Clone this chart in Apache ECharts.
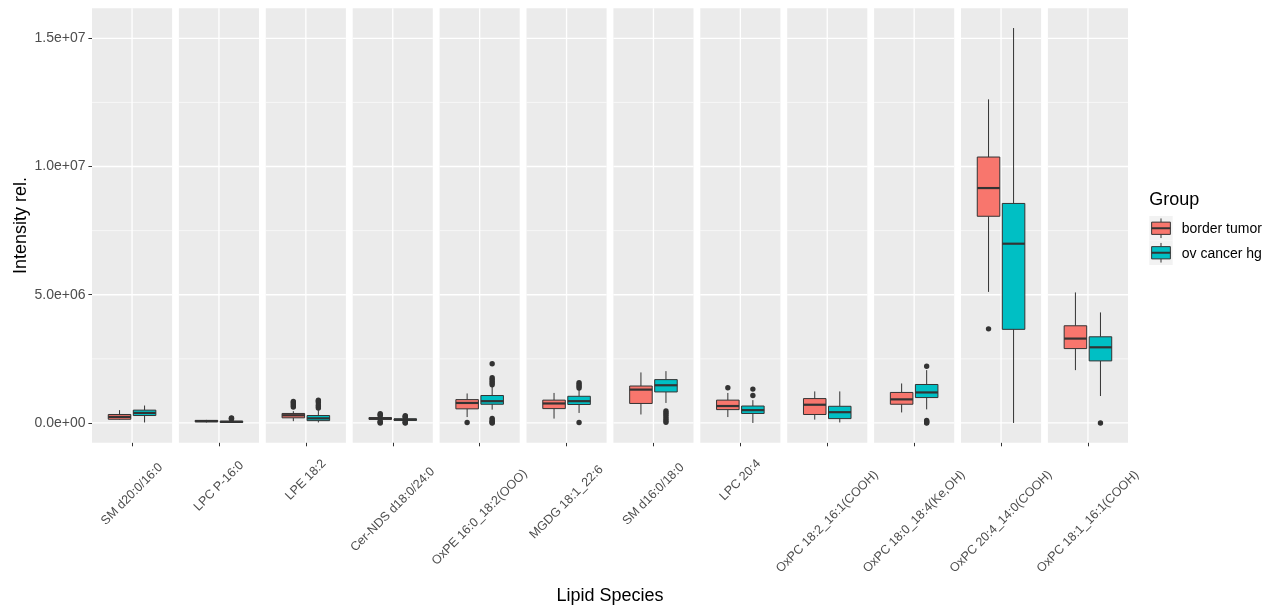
<!DOCTYPE html>
<html>
<head>
<meta charset="utf-8">
<title>Lipid Species – Intensity by Group</title>
<script src="https://cdn.jsdelivr.net/npm/echarts@6/dist/echarts.min.js"></script>
<style>
  html, body { margin: 0; padding: 0; background: #ffffff; }
  #chart { width: 1282px; height: 612px; }
</style>
</head>
<body>
<div id="chart"></div>
<script>
// ---- data ---------------------------------------------------------------
const lipidSpecies = [
  'SM d20:0/16:0', 'LPC P-16:0', 'LPE 18:2', 'Cer-NDS d18:0/24:0',
  'OxPE 16:0_18:2(OOO)', 'MGDG 18:1_22:6', 'SM d16:0/18:0', 'LPC 20:4',
  'OxPC 18:2_16:1(COOH)', 'OxPC 18:0_18:4(Ke,OH)', 'OxPC 20:4_14:0(COOH)',
  'OxPC 18:1_16:1(COOH)'
];

const groupNames = ['border tumor', 'ov cancer hg'];
const groupColors = ['#F8766D', '#00BFC4'];

// [lower whisker, Q1, median, Q3, upper whisker]
const borderTumorStats = [
  [0.13e6, 0.145e6, 0.235e6, 0.33e6, 0.50e6],
  [0.02e6, 0.045e6, 0.07e6, 0.10e6, 0.12e6],
  [0.07e6, 0.20e6, 0.30e6, 0.37e6, 0.46e6],
  [0.09e6, 0.14e6, 0.17e6, 0.21e6, 0.26e6],
  [0.23e6, 0.55e6, 0.78e6, 0.91e6, 1.15e6],
  [0.17e6, 0.56e6, 0.76e6, 0.89e6, 1.17e6],
  [0.33e6, 0.76e6, 1.30e6, 1.44e6, 1.97e6],
  [0.23e6, 0.52e6, 0.66e6, 0.89e6, 1.17e6],
  [0.13e6, 0.33e6, 0.71e6, 0.95e6, 1.23e6],
  [0.41e6, 0.73e6, 0.92e6, 1.19e6, 1.54e6],
  [5.11e6, 8.06e6, 9.16e6, 10.37e6, 12.62e6],
  [2.06e6, 2.90e6, 3.29e6, 3.79e6, 5.09e6]
];
const ovCancerHgStats = [
  [0.02e6, 0.29e6, 0.39e6, 0.50e6, 0.68e6],
  [0.00e6, 0.02e6, 0.045e6, 0.07e6, 0.10e6],
  [0.02e6, 0.09e6, 0.18e6, 0.29e6, 0.50e6],
  [0.06e6, 0.10e6, 0.13e6, 0.16e6, 0.20e6],
  [0.52e6, 0.73e6, 0.85e6, 1.07e6, 1.41e6],
  [0.39e6, 0.72e6, 0.85e6, 1.04e6, 1.34e6],
  [0.78e6, 1.21e6, 1.47e6, 1.69e6, 2.02e6],
  [0.00e6, 0.37e6, 0.50e6, 0.66e6, 0.89e6],
  [0.02e6, 0.17e6, 0.42e6, 0.65e6, 1.23e6],
  [0.53e6, 0.99e6, 1.19e6, 1.50e6, 2.06e6],
  [0.00e6, 3.65e6, 6.99e6, 8.56e6, 15.40e6],
  [1.05e6, 2.42e6, 2.95e6, 3.36e6, 4.31e6]
];

const borderTumorOutliers = [
  [],
  [],
  [0.62e6, 0.68e6, 0.74e6, 0.80e6, 0.84e6],
  [0.00e6, 0.03e6, 0.07e6, 0.28e6, 0.32e6, 0.36e6],
  [0.02e6],
  [],
  [],
  [1.37e6],
  [],
  [],
  [3.67e6],
  []
];
const ovCancerHgOutliers = [
  [],
  [0.15e6, 0.18e6, 0.20e6],
  [0.58e6, 0.64e6, 0.70e6, 0.80e6, 0.86e6, 0.89e6],
  [0.00e6, 0.02e6, 0.05e6, 0.22e6, 0.25e6, 0.28e6],
  [2.31e6, 1.76e6, 1.70e6, 1.63e6, 1.56e6, 1.49e6, 0.18e6, 0.12e6, 0.07e6, 0.02e6, 0.00e6],
  [1.57e6, 1.50e6, 1.43e6, 1.36e6, 0.02e6],
  [0.47e6, 0.40e6, 0.33e6, 0.25e6, 0.17e6, 0.10e6, 0.03e6],
  [1.07e6, 1.32e6],
  [],
  [2.21e6, 0.10e6, 0.06e6, 0.02e6, 0.00e6],
  [],
  [0.00e6]
];

const yTickValues = [0, 5e6, 1e7, 1.5e7];

// ---- layout & style -----------------------------------------------------
const FONT = '"Liberation Sans", Arial, Helvetica, sans-serif';
const PANEL_LEFT = 92, PANEL_RIGHT = 1128, PANEL_GAP = 6.8;
const PANEL_TOP = 8.3, PANEL_BOTTOM = 442.7;
const nPanels = lipidSpecies.length;
const panelW = (PANEL_RIGHT - PANEL_LEFT - PANEL_GAP * (nPanels - 1)) / nPanels;

// dodged boxes: each group takes half of a 0.75-wide slot, padded by 10%,
// inside a panel spanning 1.2 category units
const DODGE_OFFSET = 0.1875 / 1.2;
const BOX_WIDTH = 0.3375 / 1.2;
const INK = '#333333';
const AXIS_TEXT = '#4D4D4D';
const X_LABEL_SIZE = 12.5;

// scale range: data range widened by 5% on each side
const allValues = [];
[borderTumorStats, ovCancerHgStats, borderTumorOutliers, ovCancerHgOutliers]
  .forEach(set => set.forEach(row => row.forEach(v => allValues.push(v))));
const dataLo = Math.min(...allValues), dataHi = Math.max(...allValues);
const pad = 0.05 * (dataHi - dataLo);
const yLo = dataLo - pad, yHi = dataHi + pad;

// minor grid lines halfway between the major ones
const yMinorValues = [];
for (let k = 0; k < yTickValues.length - 1; k++) {
  yMinorValues.push((yTickValues[k] + yTickValues[k + 1]) / 2);
}

function sciLabel(v) {
  const parts = Number(v).toExponential(1).split('e');
  const exp = parts[1];
  const sign = exp[0] === '-' ? '-' : '+';
  const digits = exp.replace(/[+-]/, '').padStart(2, '0');
  return parts[0] + 'e' + sign + digits;
}

// rotated category labels sit centred under their tick; longer names drop lower
const measureCtx = document.createElement('canvas').getContext('2d');
measureCtx.font = X_LABEL_SIZE + 'px ' + FONT;
function labelMargin(text) {
  const w = measureCtx.measureText(text).width;
  return 6.2 + 0.483 * (w + X_LABEL_SIZE);
}

// ---- renderers ----------------------------------------------------------
function renderGridLines(params, api) {
  const cs = params.coordSys;
  const kind = api.value(2);
  if (kind === 2) {
    const x = api.coord([0, 0])[0];
    return { type: 'line', silent: true,
      shape: { x1: x, y1: cs.y, x2: x, y2: cs.y + cs.height },
      style: { stroke: '#FFFFFF', lineWidth: 1.3 } };
  }
  const y = api.coord([0, api.value(1)])[1];
  return { type: 'line', silent: true,
    shape: { x1: cs.x, y1: y, x2: cs.x + cs.width, y2: y },
    style: { stroke: '#FFFFFF', lineWidth: kind === 1 ? 1.3 : 0.6 } };
}

function groupCenter(params, api, g) {
  const band = params.coordSys.width;
  return api.coord([0, 0])[0] + (g ? 1 : -1) * band * DODGE_OFFSET;
}

function renderBox(params, api) {
  const g = api.value(6);
  const cx = groupCenter(params, api, g);
  const hw = params.coordSys.width * BOX_WIDTH / 2;
  const y = k => api.coord([0, api.value(k)])[1];
  const yMin = y(1), yQ1 = y(2), yMed = y(3), yQ3 = y(4), yMax = y(5);
  return {
    type: 'group',
    children: [
      { type: 'line', shape: { x1: cx, y1: yQ3, x2: cx, y2: yMax }, style: { stroke: INK, lineWidth: 1 } },
      { type: 'line', shape: { x1: cx, y1: yQ1, x2: cx, y2: yMin }, style: { stroke: INK, lineWidth: 1 } },
      { type: 'rect', shape: { x: cx - hw, y: yQ3, width: 2 * hw, height: yQ1 - yQ3 },
        style: { fill: groupColors[g], stroke: INK, lineWidth: 1 } },
      { type: 'line', shape: { x1: cx - hw, y1: yMed, x2: cx + hw, y2: yMed }, style: { stroke: INK, lineWidth: 2.2 } }
    ]
  };
}

function renderOutlier(params, api) {
  const g = api.value(2);
  const cx = groupCenter(params, api, g);
  const cy = api.coord([0, api.value(1)])[1];
  return { type: 'circle', shape: { cx: cx, cy: cy, r: 2.7 }, style: { fill: INK } };
}

// ---- option -------------------------------------------------------------
const grids = [], xAxes = [], yAxes = [], series = [];

lipidSpecies.forEach((name, i) => {
  grids.push({
    left: PANEL_LEFT + i * (panelW + PANEL_GAP),
    top: PANEL_TOP,
    width: panelW,
    height: PANEL_BOTTOM - PANEL_TOP,
    show: true,
    backgroundColor: '#EBEBEB',
    borderWidth: 0,
    containLabel: false,
    outerBoundsMode: 'none'
  });

  xAxes.push({
    type: 'category',
    gridIndex: i,
    position: 'bottom',
    data: [name],
    boundaryGap: true,
    axisLine: { show: false, onZero: false },
    axisTick: { show: true, alignWithLabel: true, interval: 0, length: 3.6,
      lineStyle: { color: INK, width: 1 } },
    axisLabel: {
      interval: 0, rotate: 45, align: 'center', verticalAlign: 'middle',
      margin: labelMargin(name), color: AXIS_TEXT,
      fontFamily: FONT, fontSize: X_LABEL_SIZE
    },
    splitLine: { show: false }
  });

  yAxes.push({
    type: 'value',
    gridIndex: i,
    min: yLo,
    max: yHi,
    show: i === 0,
    axisLine: { show: false },
    splitLine: { show: false },
    axisTick: { show: true, length: 3.6, customValues: yTickValues,
      lineStyle: { color: INK, width: 1 } },
    axisLabel: {
      customValues: yTickValues, formatter: sciLabel, margin: 6.5,
      color: AXIS_TEXT, fontFamily: FONT, fontSize: 14
    }
  });

  const gridData = [];
  yTickValues.forEach(v => gridData.push([0, v, 1]));
  yMinorValues.forEach(v => gridData.push([0, v, 0]));
  gridData.push([0, 0, 2]);

  series.push({
    type: 'custom', name: 'grid-' + i, xAxisIndex: i, yAxisIndex: i, z: 1,
    silent: true, renderItem: renderGridLines, encode: { x: 0, y: 1 },
    data: gridData
  });

  series.push({
    type: 'custom', name: 'box-' + i, xAxisIndex: i, yAxisIndex: i, z: 3,
    renderItem: renderBox, encode: { x: 0, y: [1, 2, 3, 4, 5] },
    data: [
      [0].concat(borderTumorStats[i], [0]),
      [0].concat(ovCancerHgStats[i], [1])
    ]
  });

  const outlierData = [];
  borderTumorOutliers[i].forEach(v => outlierData.push([0, v, 0]));
  ovCancerHgOutliers[i].forEach(v => outlierData.push([0, v, 1]));
  series.push({
    type: 'custom', name: 'outliers-' + i, xAxisIndex: i, yAxisIndex: i, z: 4,
    renderItem: renderOutlier, encode: { x: 0, y: 1 },
    data: outlierData
  });
});

// legend: boxplot glyph keys on a light grey backing
const KEY_X = 1149.3, KEY_Y = 216, KEY_W = 23.4, KEY_H = 24.5;
const legendChildren = [
  { type: 'text', x: KEY_X, y: 200.5,
    style: { text: 'Group', font: '18px ' + FONT, fill: '#000000', align: 'left', verticalAlign: 'middle' } }
];
groupNames.forEach((label, g) => {
  const top = KEY_Y + g * KEY_H;
  const cx = KEY_X + KEY_W / 2;
  legendChildren.push(
    { type: 'rect', shape: { x: KEY_X, y: top, width: KEY_W, height: KEY_H }, style: { fill: '#F2F2F2' } },
    { type: 'line', shape: { x1: cx, y1: top + KEY_H * 0.1, x2: cx, y2: top + KEY_H * 0.25 }, style: { stroke: INK, lineWidth: 1 } },
    { type: 'line', shape: { x1: cx, y1: top + KEY_H * 0.75, x2: cx, y2: top + KEY_H * 0.9 }, style: { stroke: INK, lineWidth: 1 } },
    { type: 'rect', shape: { x: KEY_X + KEY_W * 0.1, y: top + KEY_H * 0.25, width: KEY_W * 0.8, height: KEY_H * 0.5 },
      style: { fill: groupColors[g], stroke: INK, lineWidth: 1 } },
    { type: 'line', shape: { x1: KEY_X + KEY_W * 0.1, y1: top + KEY_H * 0.5, x2: KEY_X + KEY_W * 0.9, y2: top + KEY_H * 0.5 },
      style: { stroke: INK, lineWidth: 2 } },
    { type: 'text', x: 1181.7, y: top + KEY_H / 2 + 1,
      style: { text: label, font: '14px ' + FONT, fill: '#000000', align: 'left', verticalAlign: 'middle' } }
  );
});

const option = {
  animation: false,
  backgroundColor: '#FFFFFF',
  grid: grids,
  xAxis: xAxes,
  yAxis: yAxes,
  series: series,
  graphic: [
    { type: 'text', x: (PANEL_LEFT + PANEL_RIGHT) / 2, y: 596,
      style: { text: 'Lipid Species', font: '18px ' + FONT, fill: '#000000', align: 'center', verticalAlign: 'middle' } },
    { type: 'text', x: 21, y: (PANEL_TOP + PANEL_BOTTOM) / 2, rotation: Math.PI / 2,
      style: { text: 'Intensity rel.', font: '18px ' + FONT, fill: '#000000', align: 'center', verticalAlign: 'middle' } },
    { type: 'group', children: legendChildren }
  ]
};

const chart = echarts.init(document.getElementById('chart'), null, { renderer: 'canvas' });
chart.setOption(option);
</script>
</body>
</html>
